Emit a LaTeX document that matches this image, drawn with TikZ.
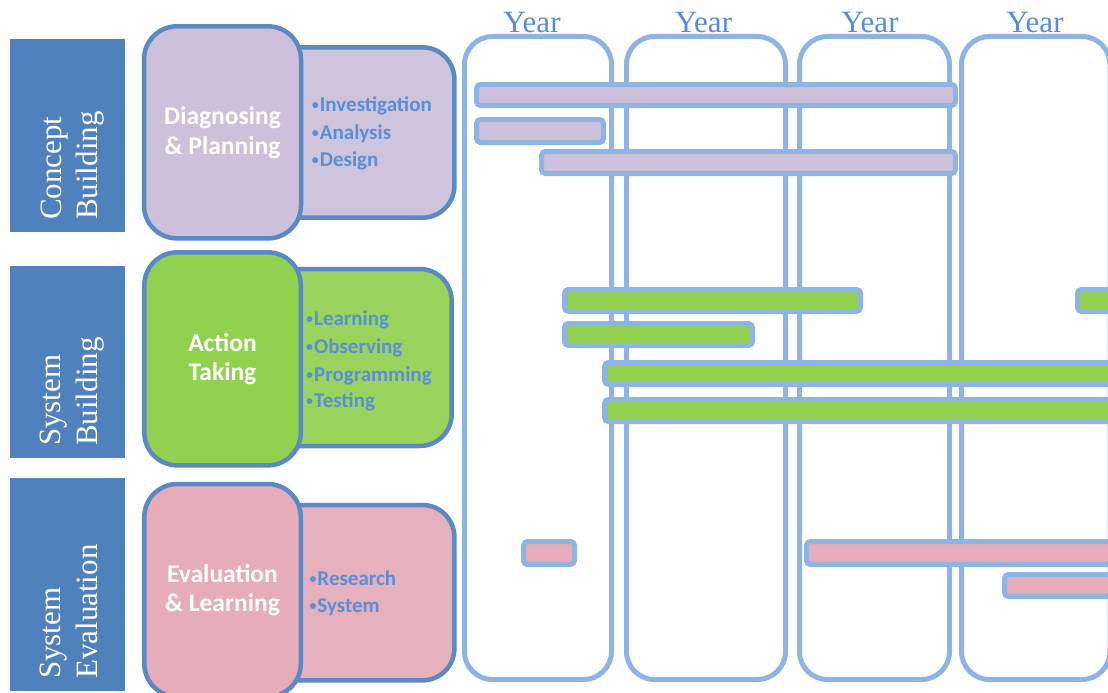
\documentclass[tikz,border=0pt]{standalone}
\usepackage{fontspec}
\setmainfont{Liberation Serif}
\newfontfamily\calib{Carlito}
\definecolor{phaseblue}{HTML}{4F81BD}
\definecolor{boxline}{HTML}{5A89C4}
\definecolor{gridline}{HTML}{8DB4E2}
\definecolor{yeartext}{HTML}{558ED5}
\definecolor{bullettext}{HTML}{5A8ED6}
\definecolor{lavA}{HTML}{CCC0DA}
\definecolor{lavB}{HTML}{CEC5DC}
\definecolor{grnA}{HTML}{92D050}
\definecolor{grnB}{HTML}{9BD45C}
\definecolor{pnkA}{HTML}{E6ACB9}
\definecolor{pnkB}{HTML}{E6B0BC}
% small list bullet
\newcommand{\itembullet}{{\fontsize{14}{14}\selectfont\raisebox{1.8pt}{•}}\hspace{1pt}}
\tikzset{
  phase/.style={fill=phaseblue, draw=none},
  phasetext/.style={text=white, font=\fontsize{31}{36}\selectfont, rotate=90, anchor=base west, inner sep=0pt},
  stagebox/.style={draw=boxline, line width=4.5pt, rounded corners=33pt},
  detailbox/.style={draw=boxline, line width=4.5pt, rounded corners=32pt},
  stagetext/.style={text=white, font=\calib\bfseries\fontsize{25.5}{29.5}\selectfont, align=center, inner sep=0pt},
  itemtext/.style={text=bullettext, font=\calib\bfseries\fontsize{21}{27}\selectfont, anchor=base west, inner sep=0pt},
  yearcol/.style={draw=gridline, line width=5pt, rounded corners=28pt},
  yearlabel/.style={text=yeartext, font=\fontsize{31}{36}\selectfont, anchor=base, inner sep=0pt},
  bar/.style={draw=gridline, line width=5pt, rounded corners=4pt},
}
\begin{document}
\begin{tikzpicture}[x=1pt, y=-1pt]
\useasboundingbox (0,0) rectangle (1108,693);
\clip (0,0) rectangle (1108,693);

% phase bands on the left
\fill[phase] (10,39.5) rectangle (125.3,231.7);
\fill[phase] (10,265.7) rectangle (125.3,457.7);
\fill[phase] (10,478.3) rectangle (125.3,690.7);
\node[phasetext] (p1a) at (61,220) {Concept};
\node[phasetext] (p1b) at (97,220) {Building};
\node[phasetext] (p2a) at (60,446) {System};
\node[phasetext] (p2b) at (97,446) {Building};
\node[phasetext] (p3a) at (60,679) {System};
\node[phasetext] (p3b) at (97,679) {Evaluation};

% detail boxes (behind the stage boxes)
\draw[detailbox, fill=lavB] (250,47.3) rectangle (454.4,217.7);
\draw[detailbox, fill=grnB] (250,269) rectangle (451.7,446);
\draw[detailbox, fill=pnkB] (250,505) rectangle (454.4,680.4);

% stage boxes
\draw[stagebox, fill=lavA] (144,26.3) rectangle (301,238.4);
\draw[stagebox, fill=grnA] (144.3,252.3) rectangle (300.8,465.4);
\draw[stagebox, fill=pnkA] (144.3,484) rectangle (300.8,696.7);
\node[stagetext] (s1) at (222.5,132.5) {Diagnosing\\\& Planning};
\node[stagetext] (s2) at (222.5,359) {Action\\Taking};
\node[stagetext] (s3) at (222.5,590) {Evaluation\\\& Learning};

% activity lists
\node[itemtext] (i1) at (311.7,111.7) {\itembullet Investigation};
\node[itemtext] (i2) at (311.7,139.3) {\itembullet Analysis};
\node[itemtext] (i3) at (311.7,166.7) {\itembullet Design};
\node[itemtext] (i4) at (306,325.7) {\itembullet Learning};
\node[itemtext] (i5) at (306,353.3) {\itembullet Observing};
\node[itemtext] (i6) at (306,381) {\itembullet Programming};
\node[itemtext] (i7) at (306,407.7) {\itembullet Testing};
\node[itemtext] (i8) at (309.3,585) {\itembullet Research};
\node[itemtext] (i9) at (309.3,612.7) {\itembullet System};

% year columns
\draw[yearcol] (464.5,36.5) rectangle (611.5,679.5);
\draw[yearcol] (626.5,36.5) rectangle (785.5,679.5);
\draw[yearcol] (799.5,36.5) rectangle (949.5,679.5);
\draw[yearcol] (961.5,36.5) rectangle (1110,679.5);
\node[yearlabel] (y1) at (532,33) {Year};
\node[yearlabel] (y2) at (703.5,33) {Year};
\node[yearlabel] (y3) at (870,33) {Year};
\node[yearlabel] (y4) at (1035,33) {Year};

% schedule bars: concept building
\draw[bar, fill=lavA] (476.5,84.5) rectangle (955.5,105.5);
\draw[bar, fill=lavA] (476.5,119.5) rectangle (603.5,142.5);
\draw[bar, fill=lavA] (541.5,151.5) rectangle (955.5,173.5);

% schedule bars: system building
\draw[bar, fill=grnA] (564.5,289.5) rectangle (860.5,311.5);
\draw[bar, fill=grnA] (1077.5,289.5) rectangle (1125,311.5);
\draw[bar, fill=grnA] (564.5,323.5) rectangle (752.5,345.5);
\draw[bar, fill=grnA] (604.5,362.5) rectangle (1125,384.5);
\draw[bar, fill=grnA] (604.5,399.5) rectangle (1125,421.5);

% schedule bars: system evaluation
\draw[bar, fill=pnkA] (523.5,541.5) rectangle (574.5,564.5);
\draw[bar, fill=pnkA] (806.5,541.5) rectangle (1125,564.5);
\draw[bar, fill=pnkA] (1004.5,574.5) rectangle (1125,596.5);
\end{tikzpicture}
\end{document}
